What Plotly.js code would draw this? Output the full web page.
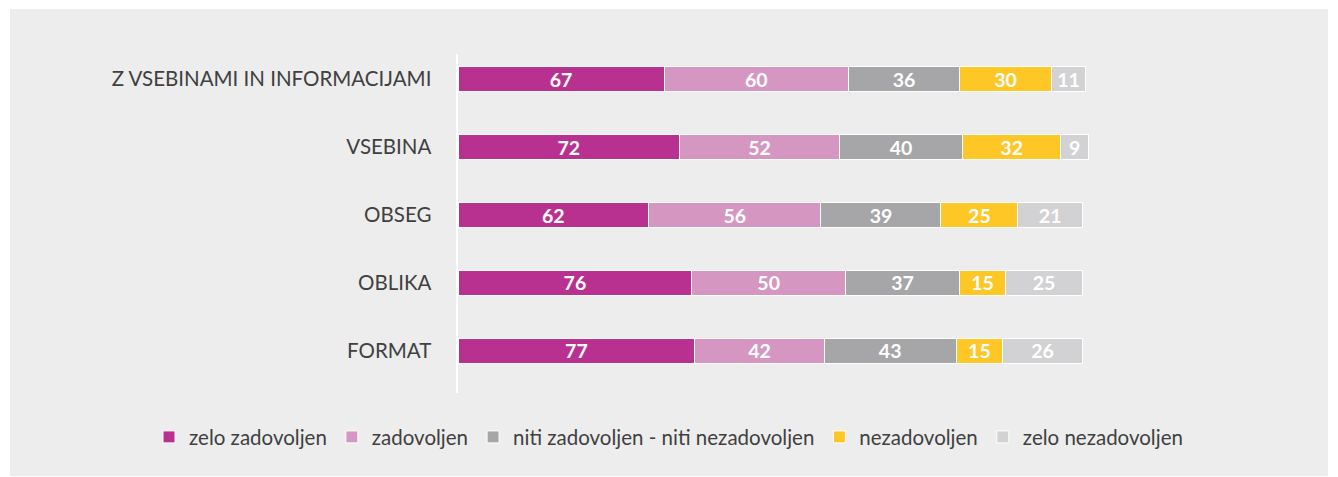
<!DOCTYPE html>
<html>
<head>
<meta charset="utf-8">
<script src="https://cdn.plot.ly/plotly-3.0.1.min.js"></script>
<style>
html,body{margin:0;padding:0;background:#ffffff;width:1338px;height:477px;overflow:hidden;}
#chart{position:absolute;left:10px;top:9px;width:1318px;height:467px;}
</style>
</head>
<body>
<div id="chart"></div>
<script>
const categories = ["Z VSEBINAMI IN INFORMACIJAMI", "VSEBINA", "OBSEG", "OBLIKA", "FORMAT"];
const seriesNames = ["zelo zadovoljen", "zadovoljen", "niti zadovoljen - niti nezadovoljen", "nezadovoljen", "zelo nezadovoljen"];
const zeloZadovoljen = [67, 72, 62, 76, 77];
const zadovoljen = [60, 52, 56, 50, 42];
const niti = [36, 40, 39, 37, 43];
const nezadovoljen = [30, 32, 25, 15, 15];
const zeloNezadovoljen = [11, 9, 21, 25, 26];
const colors = ["#b93190", "#d597c2", "#a6a6a8", "#ffc726", "#d2d2d4"];

const allValues = [zeloZadovoljen, zadovoljen, niti, nezadovoljen, zeloNezadovoljen];
const font = "Lato, 'Open Sans', sans-serif";

const traces = allValues.map((vals, i) => ({
  type: 'bar',
  orientation: 'h',
  name: seriesNames[i],
  y: categories,
  x: vals,
  width: 0.38,
  marker: {color: colors[i], line: {color: '#ffffff', width: 1}},
  text: vals.map(String),
  textposition: 'inside',
  insidetextanchor: 'middle',
  textangle: 0,
  constraintext: 'none',
  textfont: {family: font, size: 19.5, color: '#ffffff', weight: 'bold'},
  hoverinfo: 'x+name'
}));

const layout = {
  barmode: 'stack',
  paper_bgcolor: '#ededed',
  plot_bgcolor: '#ededed',
  margin: {l: 448, r: 101, t: 45, b: 83},
  showlegend: true,
  xaxis: {
    range: [0, 250],
    showgrid: false,
    zeroline: false,
    showticklabels: false,
    showline: false,
    fixedrange: true
  },
  yaxis: {
    type: 'category',
    categoryorder: 'array',
    categoryarray: categories,
    range: [4.618, -0.368],
    showgrid: false,
    zeroline: false,
    showline: true,
    linecolor: '#ffffff',
    linewidth: 2.5,
    ticks: '',
    ticklabelstandoff: 20,
    tickfont: {family: font, size: 20.5, color: '#404040'},
    fixedrange: true
  },
  legend: {
    orientation: 'h',
    x: -0.4018,
    xanchor: 'left',
    y: -0.13,
    yanchor: 'middle',
    font: {family: font, size: 20.5, color: '#404040'},
    traceorder: 'normal',
    itemwidth: 30,
    bgcolor: 'rgba(0,0,0,0)'
  }
};

Plotly.newPlot('chart', traces, layout, {displayModeBar: false, staticPlot: true});
</script>
</body>
</html>
